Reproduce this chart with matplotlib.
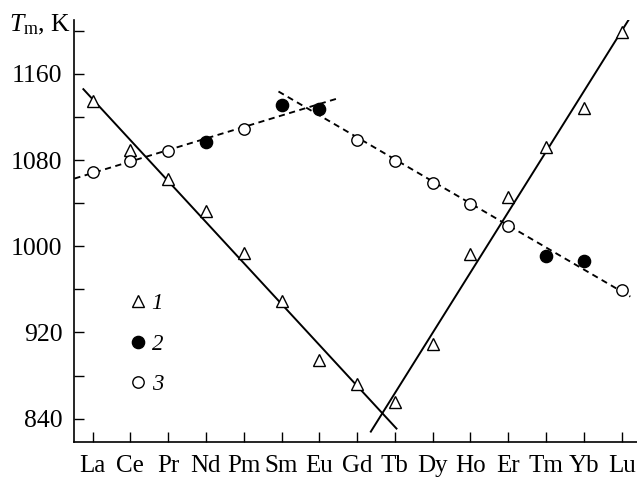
import numpy as np
import matplotlib
matplotlib.use("Agg")
import matplotlib.pyplot as plt
from matplotlib.lines import Line2D

plt.rcParams['font.family'] = ['Liberation Serif', 'DejaVu Serif']
plt.rcParams['mathtext.fontset'] = 'custom'
plt.rcParams['mathtext.rm'] = 'Liberation Serif'
plt.rcParams['mathtext.it'] = 'Liberation Serif:italic'

# Lanthanide series
elements = ["La", "Ce", "Pr", "Nd", "Pm", "Sm", "Eu", "Gd",
            "Tb", "Dy", "Ho", "Er", "Tm", "Yb", "Lu"]

# 1: triangles (melting temperature, K)
t_series1 = [1135, 1089, 1062, 1033, 994, 949, 894, 872,
             855, 909, 993, 1046, 1092, 1128, 1199]

# 2: filled circles
t_series2 = [np.nan, np.nan, np.nan, 1097, np.nan, 1131, 1127, np.nan,
             np.nan, np.nan, np.nan, np.nan, 991, 986, np.nan]

# 3: open circles
t_series3 = [1069, 1079, 1088, np.nan, 1109, np.nan, np.nan, 1099,
             1079, 1059, 1039, 1019, np.nan, np.nan, 959]

y_ticks = [840, 920, 1000, 1080, 1160]

x = np.arange(len(elements))
s1 = np.array(t_series1, dtype=float)
s2 = np.array(t_series2, dtype=float)
s3 = np.array(t_series3, dtype=float)
circles = np.where(np.isnan(s2), s3, s2)

fig = plt.figure(figsize=(6.37, 4.79), dpi=100)
ax = fig.add_axes([0.1162, 0.0779, 0.884, 0.8803])
ax.set_xlim(-0.49, 14.41)
ax.set_ylim(818.6, 1210)


def fit_line(xs, ys, lo, hi, x0, x1, **kw):
    sel = (xs >= lo) & (xs <= hi) & ~np.isnan(ys)
    k, b = np.polyfit(xs[sel], ys[sel], 1)
    xx = np.array([x0, x1])
    ax.plot(xx, k * xx + b, **kw)


solid = dict(color='black', lw=1.4, zorder=2, solid_capstyle='butt')
dashed = dict(color='black', lw=1.35, zorder=2, dashes=(3.3, 2.4))

# linear fits for the two branches of each series
fit_line(x, s1, 0, 7, -0.26, 8.06, **solid)
fit_line(x, s1, 8, 14, 7.35, 14.23, **solid)
fit_line(x, circles, 0, 6, -0.48, 6.45, **dashed)
fit_line(x, circles, 6, 14, 4.92, 14.23, **dashed)

tri = dict(linestyle='none', marker='^', ms=9.2, mfc='white', mec='black', mew=1.0)
full = dict(linestyle='none', marker='o', ms=8.8, mfc='black', mec='black', mew=1.0)
hollow = dict(linestyle='none', marker='o', ms=8.2, mfc='white', mec='black', mew=1.0)

ax.plot(x, s1, zorder=4, **tri)
ax.plot(x, s2, zorder=4, **full)
ax.plot(x, s3, zorder=4, **hollow)

# axes styling
for side in ('top', 'right'):
    ax.spines[side].set_visible(False)
for side in ('left', 'bottom'):
    ax.spines[side].set_linewidth(1.2)

ax.set_xticks(x)
ax.set_xticklabels(elements)
ax.set_yticks(np.arange(840, 1201, 40))
ax.set_yticklabels([str(v) if v in y_ticks else '' for v in np.arange(840, 1201, 40)])
ax.tick_params(axis='both', direction='in', length=7, width=1.0,
               colors='black')
ax.tick_params(axis='y', pad=8.4, labelsize=18.5)
ax.tick_params(axis='x', pad=9.5, labelsize=18)

fig.text(0.014, 0.934, r'$T_{\mathrm{m}}$, K', fontsize=18.5, ha='left',
         va='baseline')

# legend
handles = [Line2D([], [], **tri), Line2D([], [], **full), Line2D([], [], **hollow)]
leg = ax.legend(handles, ['1', '2', '3'], loc='upper left',
                bbox_to_anchor=(0.085, 0.374), frameon=False,
                handlelength=0.6, handletextpad=0.3, labelspacing=0.85,
                borderaxespad=0.0,
                prop={'family': 'Liberation Serif', 'style': 'italic', 'size': 16.5})

fig.savefig('out.png', dpi=100)
